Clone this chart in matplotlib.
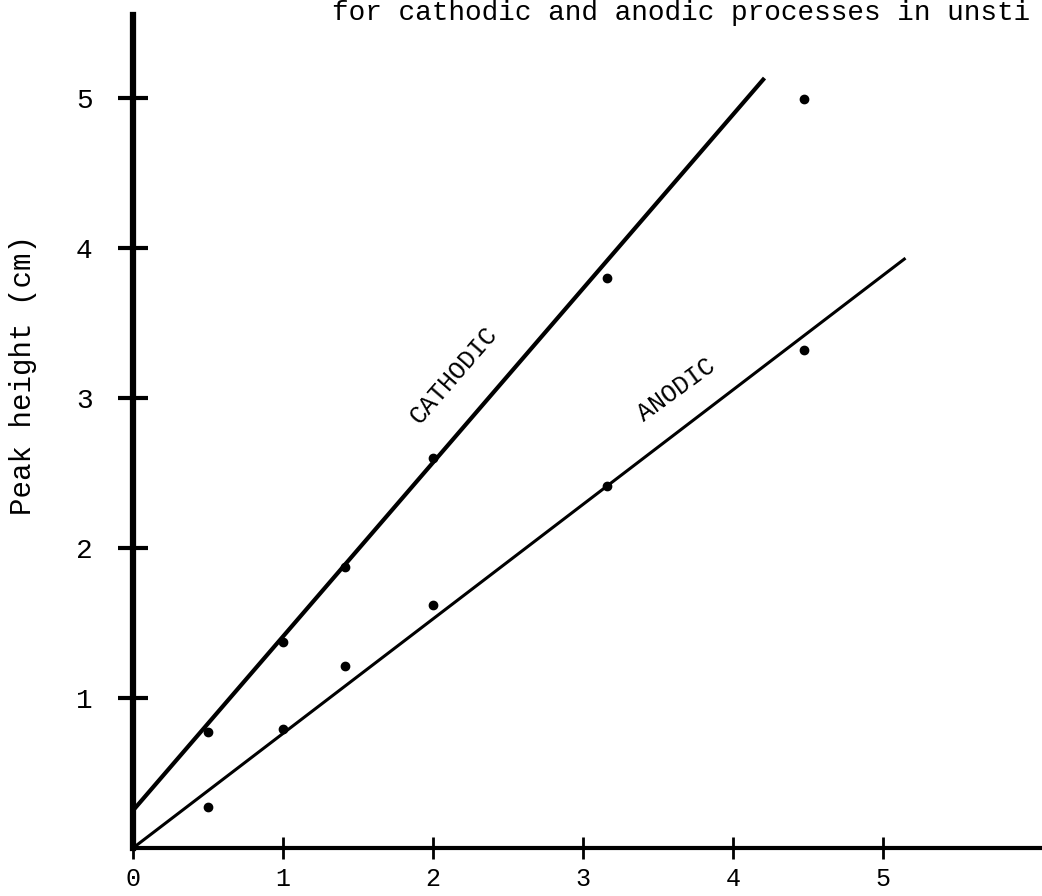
import matplotlib.pyplot as plt
import numpy as np

# square root of sweep rate vs peak height
x_vals = [0.5, 1.0, 1.414, 2.0, 3.162, 4.472]
cathodic_y = [0.77, 1.37, 1.87, 2.60, 3.80, 4.99]
anodic_y = [0.27, 0.79, 1.21, 1.62, 2.41, 3.32]

# hand-drawn best-fit lines (end points)
cathodic_fit_x = [0.0, 4.21]
cathodic_fit_y = [0.25, 5.13]
anodic_fit_x = [0.0, 5.15]
anodic_fit_y = [0.0, 3.93]

x_ticks = [0, 1, 2, 3, 4, 5]
y_ticks = [1, 2, 3, 4, 5]

font = ["Liberation Mono", "DejaVu Sans Mono"]

fig = plt.figure(figsize=(10.42, 8.96), dpi=100)
ax = fig.add_axes([133 / 1042, 48 / 896, 1 - 133 / 1042, (848 - 15) / 896])

ax.plot(cathodic_fit_x, cathodic_fit_y, color="black", lw=3.0, solid_capstyle="butt")
ax.plot(anodic_fit_x, anodic_fit_y, color="black", lw=2.2, solid_capstyle="butt")
ax.plot(x_vals, cathodic_y, "o", color="black", markersize=6)
ax.plot(x_vals, anodic_y, "o", color="black", markersize=6)

ax.text(2.14, 3.15, "CATHODIC", rotation=49, ha="center", va="center",
        fontsize=18, family=font, rotation_mode="anchor")
ax.text(3.62, 3.05, "ANODIC", rotation=36, ha="center", va="center",
        fontsize=18, family=font, rotation_mode="anchor")

ax.set_xlim(0, 6.06)
ax.set_ylim(0, 5.55)

for side in ["top", "right"]:
    ax.spines[side].set_visible(False)
ax.spines["left"].set_linewidth(4.5)
ax.spines["bottom"].set_linewidth(3.0)

ax.set_xticks(x_ticks)
ax.set_yticks(y_ticks)
ax.set_xticklabels([str(t) for t in x_ticks], family=font, fontsize=18)
ax.set_yticklabels([str(t) for t in y_ticks], family=font, fontsize=20)
ax.tick_params(axis="y", direction="inout", length=22, width=3, pad=18)
ax.tick_params(axis="x", direction="inout", length=16, width=2, pad=6)

ax.set_ylabel("Peak height (cm)", family=font, fontsize=21)
ax.yaxis.set_label_coords(-0.106, 0.568)

# heading is cut at the page edge in the original scan
fig.text(332 / 1042, 1 - 13 / 896, "for cathodic and anodic processes in unsti",
         family=font, fontsize=20, ha="left", va="center")

fig.savefig("out.png", dpi=100, facecolor="white")
